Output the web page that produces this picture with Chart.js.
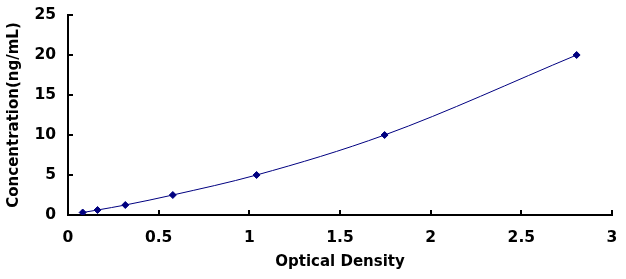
<!DOCTYPE html>
<html>
<head>
<meta charset="utf-8">
<style>
  html, body { margin: 0; padding: 0; background: #ffffff; }
  #wrap { width: 626px; height: 279px; }
</style>
<script src="https://cdn.jsdelivr.net/npm/chart.js@4/dist/chart.umd.min.js"></script>
</head>
<body>
<div id="wrap"><canvas id="c" width="626" height="279"></canvas></div>
<script>
const opticalDensity = [0.081, 0.163, 0.316, 0.578, 1.04, 1.746, 2.805];
const concentration = [0.3125, 0.625, 1.25, 2.5, 5, 10, 20];
const xTitle = 'Optical Density';
const yTitle = 'Concentration(ng/mL)';

const points = opticalDensity.map((x, i) => ({ x: x, y: concentration[i] }));

const innerTicks = {
  id: 'innerTicks',
  afterDraw(chart) {
    const ctx = chart.ctx;
    const xs = chart.scales.x, ys = chart.scales.y;
    ctx.save();
    ctx.strokeStyle = '#000';
    ctx.lineWidth = 2;
    ctx.beginPath();
    xs.ticks.forEach(t => {
      const px = Math.round(xs.getPixelForValue(t.value));
      ctx.moveTo(px, xs.top);
      ctx.lineTo(px, xs.top - 5);
    });
    ys.ticks.forEach(t => {
      const py = Math.round(ys.getPixelForValue(t.value));
      ctx.moveTo(ys.right, py);
      ctx.lineTo(ys.right + 5, py);
    });
    ctx.stroke();
    ctx.restore();
  }
};

const font = { family: '"DejaVu Sans", sans-serif', weight: 'bold' };

new Chart(document.getElementById('c'), {
  type: 'scatter',
  data: {
    datasets: [{
      data: points,
      showLine: true,
      borderColor: '#000080',
      backgroundColor: '#000080',
      borderWidth: 1,
      pointStyle: 'rectRot',
      pointRadius: 3.5,
      pointBorderWidth: 1,
      cubicInterpolationMode: 'monotone'
    }]
  },
  options: {
    responsive: false,
    animation: false,
    devicePixelRatio: 1,
    layout: { padding: { top: 15, right: 14, left: 0, bottom: 0 } },
    plugins: { legend: { display: false }, tooltip: { enabled: false } },
    scales: {
      x: {
        type: 'linear',
        min: 0, max: 3,
        afterFit(s) { s.height = 64; s.paddingLeft = 0; s.paddingRight = 0; },
        grid: { display: true, drawOnChartArea: false, drawTicks: false },
        border: { display: true, color: '#000', width: 2 },
        ticks: { stepSize: 0.5, color: '#000', padding: 14, maxRotation: 0,
                  callback: v => String(v),
                  font: Object.assign({ size: 15.5 }, font) },
        title: { display: true, text: xTitle, color: '#000', padding: 8,
                 font: Object.assign({ size: 15 }, font) }
      },
      y: {
        type: 'linear',
        min: 0, max: 25,
        afterFit(s) { s.width = 68; s.paddingTop = 0; s.paddingBottom = 0; },
        grid: { display: true, drawOnChartArea: false, drawTicks: false },
        border: { display: true, color: '#000', width: 2 },
        ticks: { stepSize: 5, color: '#000', padding: 12,
                 callback: v => String(v),
                 font: Object.assign({ size: 15.5 }, font) },
        title: { display: true, text: yTitle, color: '#000', padding: 5,
                 font: Object.assign({ size: 15 }, font) }
      }
    }
  },
  plugins: [innerTicks]
});
</script>
</body>
</html>
